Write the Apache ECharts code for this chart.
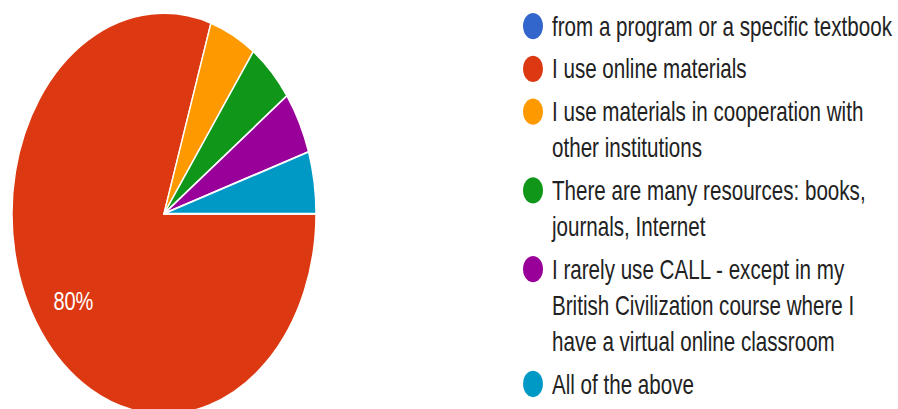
<!DOCTYPE html>
<html>
<head>
<meta charset="utf-8">
<script src="https://cdn.jsdelivr.net/npm/echarts@6/dist/echarts.min.js"></script>
<style>
  html, body { margin: 0; padding: 0; background: #ffffff; width: 898px; height: 409px; }
  #wrap { width: 898px; height: 310px; transform: scaleY(1.3194); transform-origin: 0 0; }
  #chart { width: 898px; height: 310px; }
</style>
</head>
<body>
<div id="wrap"><div id="chart"></div></div>
<script>
// ---- data ----
const categories = [
  'from a program or a specific textbook',
  'I use online materials',
  'I use materials in cooperation with other institutions',
  'There are many resources: books, journals, Internet',
  'I rarely use CALL - except in my British Civilization course where I have a virtual online classroom',
  'All of the above'
];
const values = [0, 80, 5, 5, 5, 5];
const colors = ['#3366cc', '#dc3912', '#ff9900', '#109618', '#990099', '#0099c6'];

// ---- layout (not data) ----
const FONT = '"Liberation Sans", Arial, sans-serif';
const legendLineCounts = [1, 1, 2, 2, 3, 1];
const LH = 27.3, GAP = 5.1, FIRST_CY = 19.8, ICON_X = 533, TEXT_X = 552;

const pieData = categories.map((n, i) => ({ name: n, value: values[i], itemStyle: { color: colors[i] } }));

const graphics = [];
let cy = FIRST_CY;
categories.forEach((n, i) => {
  graphics.push({
    type: 'circle', shape: { cx: ICON_X, cy: cy, r: 10 },
    style: { fill: colors[i] }, silent: true
  });
  graphics.push({
    type: 'text', x: TEXT_X, y: cy - LH / 2, silent: true,
    style: {
      text: n, width: 344, overflow: 'break', lineHeight: LH,
      font: '20.6px ' + FONT, fill: '#222222', verticalAlign: 'top', align: 'left'
    }
  });
  cy += legendLineCounts[i] * LH + GAP;
});

const chart = echarts.init(document.getElementById('chart'), null, { renderer: 'svg', width: 898, height: 310 });
chart.setOption({
  backgroundColor: '#ffffff',
  animation: false,
  graphic: graphics,
  series: [
    {
      type: 'pie',
      center: [164, 162],
      radius: [0, 152],
      startAngle: 0,
      clockwise: true,
      avoidLabelOverlap: false,
      silent: true,
      data: pieData,
      itemStyle: { borderColor: '#ffffff', borderWidth: 1.4 },
      label: { show: false },
      labelLine: { show: false },
      emphasis: { disabled: true }
    },
    {
      type: 'pie',
      center: [164, 162],
      radius: [66, 152],
      startAngle: 0,
      clockwise: true,
      avoidLabelOverlap: false,
      silent: true,
      data: categories.map((n, i) => ({ name: n, value: values[i] })),
      itemStyle: { color: 'rgba(0,0,0,0)', borderWidth: 0 },
      label: {
        show: true, position: 'inside', color: '#ffffff',
        fontFamily: FONT, fontSize: 20,
        formatter: p => (p.percent >= 10 ? Math.round(p.percent) + '%' : '')
      },
      labelLine: { show: false },
      emphasis: { disabled: true }
    }
  ]
});
</script>
</body>
</html>
